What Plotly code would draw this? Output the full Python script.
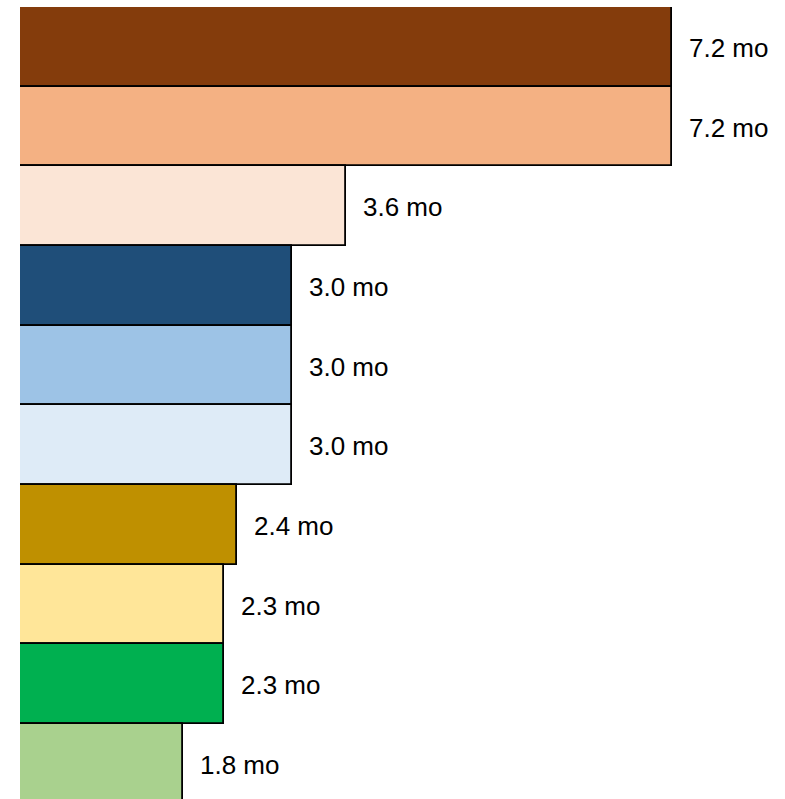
import plotly.graph_objects as go

categories = ["A", "B", "C", "D", "E", "F", "G", "H", "I", "J"]
values = [7.2, 7.2, 3.6, 3.0, 3.0, 3.0, 2.4, 2.25, 2.25, 1.8]
labels = ["7.2 mo", "7.2 mo", "3.6 mo", "3.0 mo", "3.0 mo", "3.0 mo",
          "2.4 mo", "2.3 mo", "2.3 mo", "1.8 mo"]
colors = ["#843C0C", "#F4B183", "#FBE5D6", "#1F4E79", "#9DC3E6",
          "#DEEBF7", "#BF9000", "#FFE699", "#00B050", "#A9D18E"]

fig = go.Figure()
fig.add_trace(go.Bar(
    x=values, y=categories, orientation="h",
    marker=dict(color=colors, line=dict(color="black", width=1.8)),
    width=1.0, hoverinfo="skip",
))

for c, v, t in zip(categories, values, labels):
    fig.add_annotation(x=v, y=c, text=t, xanchor="left", yanchor="middle",
                       xshift=15, yshift=-1, showarrow=False,
                       font=dict(family="Liberation Sans, Arial, sans-serif",
                                 size=26, color="black"))

fig.update_layout(
    width=785, height=799,
    margin=dict(l=20, r=0, t=7, b=0),
    paper_bgcolor="white", plot_bgcolor="white",
    bargap=0, showlegend=False,
    xaxis=dict(range=[0, 8.447], showticklabels=False, showgrid=False,
               zeroline=False, showline=False, fixedrange=True),
    yaxis=dict(range=[9.44, -0.5], showticklabels=False, showgrid=False,
               zeroline=False, showline=False, fixedrange=True),
)

fig.write_html("out.html")
